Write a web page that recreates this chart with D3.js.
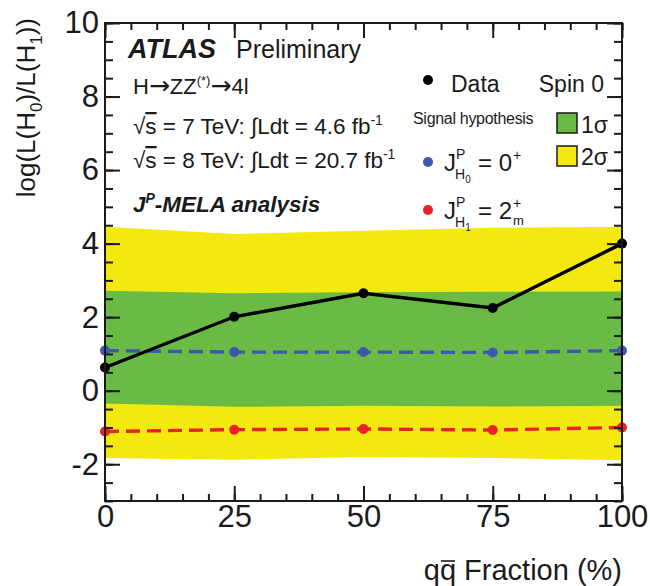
<!DOCTYPE html>
<html>
<head>
	<meta charset="utf-8">
	<title></title>
	<script src="https://d3js.org/d3.v7.min.js" charset="utf-8"></script>
	<style type="text/css">
		body {
			margin: 0;
			background: white;
		}

		svg text {
			font-family: 'Liberation Sans', Arial, sans-serif;
			fill: #1a1a1a;
		}
	</style>
</head>
<body>
	<script type="text/javascript">
		var w = 650;
		var h = 586;

		// qq fraction in percent
		var fractions = [0, 25, 50, 75, 100];
		// observed data
		var dataLLR = [0.63, 2.01, 2.65, 2.25, 4.0];
		// expected for J^P = 0+ and 2+m
		var llrH0 = [1.09, 1.05, 1.05, 1.04, 1.09];
		var llrH1 = [-1.11, -1.06, -1.04, -1.07, -1.0];
		// 1 sigma / 2 sigma bands
		var band1Lo = [-0.35, -0.44, -0.41, -0.43, -0.41];
		var band1Hi = [2.72, 2.65, 2.68, 2.69, 2.70];
		var band2Lo = [-1.83, -1.88, -1.80, -1.83, -1.89];
		var band2Hi = [4.46, 4.26, 4.35, 4.43, 4.46];

		var xMajor = [0, 25, 50, 75, 100];
		var xMinor = d3.range(0, 101, 5);
		var yMajor = [-2, 0, 2, 4, 6, 8, 10];
		var yMinor = d3.range(-3, 10.01, 0.5);

		var green = '#69bb45';
		var yellow = '#f3e90f';
		var blue = '#3c59ab';
		var red = '#ea2228';

		var pLeft = 105, pRight = 622, pTop = 23, pBottom = 501;

		var x = d3.scaleLinear().domain([0, 100]).range([pLeft, pRight]);
		var y = d3.scaleLinear().domain([-3, 10]).range([pBottom, pTop]);

		var svg = d3.select('body')
			.append('svg')
			.attr('width', w)
			.attr('height', h);

		// bands
		function band(lo, hi, color) {
			var area = d3.area()
				.x(function (d, i) { return x(fractions[i]); })
				.y0(function (d, i) { return y(lo[i]); })
				.y1(function (d, i) { return y(hi[i]); });
			svg.append('path')
				.datum(fractions)
				.attr('d', area)
				.attr('fill', color);
		}
		band(band2Lo, band2Hi, yellow);
		band(band1Lo, band1Hi, green);

		// lines + markers
		function series(vals, color, dash) {
			var line = d3.line()
				.x(function (d, i) { return x(fractions[i]); })
				.y(function (d) { return y(d); });
			svg.append('path')
				.datum(vals)
				.attr('d', line)
				.attr('fill', 'none')
				.attr('stroke', color)
				.attr('stroke-width', 3.4)
				.attr('stroke-dasharray', dash);
			svg.append('g')
				.selectAll('circle')
				.data(vals)
				.enter()
				.append('circle')
				.attr('cx', function (d, i) { return x(fractions[i]); })
				.attr('cy', function (d) { return y(d); })
				.attr('r', 5)
				.attr('fill', color);
		}
		series(llrH0, blue, '14,7');
		series(llrH1, red, '14,7');
		series(dataLLR, '#000', null);

		// axes, ticks inside on all four sides
		function drawAxis(axis, tx, ty, labels) {
			var g = svg.append('g')
				.attr('transform', 'translate(' + tx + ',' + ty + ')')
				.call(axis);
			g.select('.domain').remove();
			g.selectAll('line').attr('stroke', '#1a1a1a').attr('stroke-width', 2);
			g.selectAll('text')
				.attr('font-size', 31)
				.attr('font-family', "'Liberation Sans', Arial, sans-serif")
				.attr('fill', '#1a1a1a');
			if (!labels) g.selectAll('text').remove();
			return g;
		}
		var plain = function (d) { return String(d); };
		drawAxis(d3.axisLeft(y).tickValues(yMinor).tickSize(-8), pLeft, 0, false);
		drawAxis(d3.axisLeft(y).tickValues(yMajor).tickSize(-15).tickPadding(6).tickFormat(plain), pLeft, 0, true);
		drawAxis(d3.axisRight(y).tickValues(yMinor).tickSize(-8), pRight, 0, false);
		drawAxis(d3.axisRight(y).tickValues(yMajor).tickSize(-15), pRight, 0, false);
		drawAxis(d3.axisBottom(x).tickValues(xMinor).tickSize(-7), 0, pBottom, false);
		drawAxis(d3.axisBottom(x).tickValues(xMajor).tickSize(-15).tickPadding(4).tickFormat(plain), 0, pBottom, true);
		drawAxis(d3.axisTop(x).tickValues(xMinor).tickSize(-7), 0, pTop, false);
		drawAxis(d3.axisTop(x).tickValues(xMajor).tickSize(-15), 0, pTop, false);

		svg.append('rect')
			.attr('x', pLeft)
			.attr('y', pTop)
			.attr('width', pRight - pLeft)
			.attr('height', pBottom - pTop)
			.attr('fill', 'none')
			.attr('stroke', '#1a1a1a')
			.attr('stroke-width', 2);

		// axis titles
		var yt = svg.append('text')
			.attr('transform', 'translate(35,18) rotate(-90)')
			.attr('text-anchor', 'end')
			.attr('font-size', 26);
		yt.append('tspan').text('log(L(H');
		yt.append('tspan').text('0').attr('font-size', 17).attr('dy', 7);
		yt.append('tspan').text(')/L(H').attr('dy', -7);
		yt.append('tspan').text('1').attr('font-size', 17).attr('dy', 7);
		yt.append('tspan').text('))').attr('dy', -7);

		var xt = svg.append('text')
			.attr('x', 622)
			.attr('y', 580)
			.attr('text-anchor', 'end')
			.attr('font-size', 29)
			.text('qq Fraction (%)');
		// bar over the second q
		var q0 = xt.node().getStartPositionOfChar(1).x;
		var qw = xt.node().getSubStringLength(1, 1);
		svg.append('line')
			.attr('x1', q0 + 1).attr('x2', q0 + qw - 1)
			.attr('y1', 561).attr('y2', 561)
			.attr('stroke', '#1a1a1a').attr('stroke-width', 1.6);

		// labels
		svg.append('text')
			.attr('x', 128).attr('y', 58)
			.attr('font-size', 27).attr('font-weight', 'bold').attr('font-style', 'italic')
			.text('ATLAS');
		svg.append('text')
			.attr('x', 236).attr('y', 58)
			.attr('font-size', 25)
			.text('Preliminary');

		var t1 = svg.append('text').attr('x', 133).attr('y', 94).attr('font-size', 22);
		t1.append('tspan').text('H');
		t1.append('tspan').text('\u2192').attr('font-family', 'DejaVu Sans').attr('font-size', 25);
		t1.append('tspan').text('ZZ');
		t1.append('tspan').text('(*)').attr('font-size', 13).attr('dy', -9);
		t1.append('tspan').text('\u2192').attr('font-family', 'DejaVu Sans').attr('font-size', 25).attr('dy', 9);
		t1.append('tspan').text('4l');

		function lumi(yy, e, l) {
			var t = svg.append('text').attr('x', 133).attr('y', yy).attr('font-size', 22.5);
			t.append('tspan').text('\u221A');
			t.append('tspan').text('s').style('text-decoration', 'overline');
			t.append('tspan').text(' = ' + e + ' TeV: \u222BLdt = ' + l + ' fb');
			t.append('tspan').text('-1').attr('font-size', 14).attr('dy', -9);
		}
		lumi(134, 7, '4.6');
		lumi(168, 8, '20.7');

		var t2 = svg.append('text').attr('x', 133).attr('y', 212)
			.attr('font-size', 22.5).attr('font-weight', 'bold').attr('font-style', 'italic');
		t2.append('tspan').text('J');
		t2.append('tspan').text('P').attr('font-size', 14).attr('dy', -9);
		t2.append('tspan').text('-MELA analysis').attr('dy', 9);

		// legend
		svg.append('circle').attr('cx', 428).attr('cy', 80).attr('r', 5).attr('fill', '#000');
		svg.append('text').attr('x', 451).attr('y', 92).attr('font-size', 23).text('Data');
		svg.append('text').attr('x', 604).attr('y', 92).attr('font-size', 23)
			.attr('text-anchor', 'end').text('Spin 0');
		svg.append('text').attr('x', 413).attr('y', 124).attr('font-size', 16)
			.attr('letter-spacing', -0.3).text('Signal hypothesis');

		svg.append('rect').attr('x', 557).attr('y', 113).attr('width', 20).attr('height', 20)
			.attr('fill', green).attr('stroke', '#1a1a1a').attr('stroke-width', 1.5);
		svg.append('rect').attr('x', 557).attr('y', 146).attr('width', 20).attr('height', 20)
			.attr('fill', yellow).attr('stroke', '#1a1a1a').attr('stroke-width', 1.5);
		svg.append('text').attr('x', 581).attr('y', 133).attr('font-size', 23).text('1\u03C3');
		svg.append('text').attr('x', 581).attr('y', 165).attr('font-size', 23).text('2\u03C3');

		function hyp(yy, color, sub, val, vsup, vsub) {
			svg.append('circle').attr('cx', 428).attr('cy', yy - 9).attr('r', 5).attr('fill', color);
			svg.append('text').attr('x', 444).attr('y', yy).attr('font-size', 24).text('J');
			svg.append('text').attr('x', 456).attr('y', yy - 12).attr('font-size', 14).text('P');
			var s = svg.append('text').attr('x', 455).attr('y', yy + 8).attr('font-size', 14);
			s.append('tspan').text('H');
			s.append('tspan').text(sub).attr('font-size', 10).attr('dy', 4);
			var v = svg.append('text').attr('x', 478).attr('y', yy).attr('font-size', 24).text('= ' + val);
			var ve = 478 + v.node().getComputedTextLength() + 1;
			svg.append('text').attr('x', ve).attr('y', yy - 11).attr('font-size', 14).text(vsup);
			if (vsub) svg.append('text').attr('x', ve).attr('y', yy + 6).attr('font-size', 13).text(vsub);
		}
		hyp(171, blue, '0', '0', '+', null);
		hyp(219, red, '1', '2', '+', 'm');
	</script>
</body>
</html>
